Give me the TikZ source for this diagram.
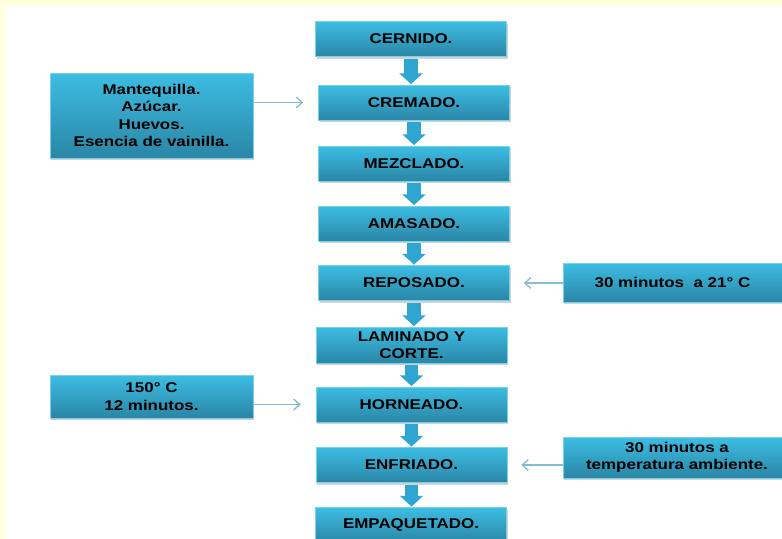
\documentclass[tikz,border=0pt]{standalone}
\usepackage{fontspec}
\setmainfont{Liberation Sans}[FakeStretch=1.2]
\usetikzlibrary{arrows.meta,shadows,calc}
\definecolor{cream}{HTML}{FFFFDC}
\definecolor{boxtop}{HTML}{3DBDE3}
\definecolor{boxbot}{HTML}{2A86A6}
\definecolor{arrowblue}{HTML}{2FA6D2}
\definecolor{thinblue}{HTML}{86BCD0}
\tikzset{
  stepbox/.style={rectangle, top color=boxtop, bottom color=boxbot, draw=boxtop!70!white, line width=0.4pt,
    drop shadow={shadow xshift=1pt, shadow yshift=-1.5pt, opacity=0.35},
    font=\fontsize{10.6}{13}\selectfont\bfseries, text=black, align=center, inner sep=1pt},
  mainbox/.style={stepbox, minimum width=143.25pt, minimum height=26.25pt},
  flowarrow/.style={draw=arrowblue, line width=10pt, -{Triangle[width=17pt,length=8pt]},
    shorten <=1.5pt, shorten >=0.5pt},
  sidearrow/.style={draw=thinblue, line width=1pt, -{Straight Barb[length=4.5pt,width=8pt]}}
}
\begin{document}
\begin{tikzpicture}[x=0.75pt,y=-0.75pt]
\useasboundingbox (0,0) rectangle (782,539);
\fill[cream] (0,0) rectangle (782,539);
\fill[white] (5,6) rectangle (782,539);

\node[mainbox] (cern) at (411,39) {CERNIDO.};
\node[mainbox] (crem) at (414,102.5) {CREMADO.};
\node[mainbox] (mezc) at (414,163.5) {MEZCLADO.};
\node[mainbox] (amas) at (414,223.5) {AMASADO.};
\node[mainbox] (repo) at (414,283) {REPOSADO.};
\node[mainbox, minimum height=27pt] (lami) at (411.5,345) {LAMINADO Y\\CORTE.};
\node[mainbox] (horn) at (411.5,404.5) {HORNEADO.};
\node[mainbox] (enfr) at (411.5,465) {ENFRIADO.};
\node[mainbox] (empa) at (411,525) {EMPAQUETADO.};

\node[stepbox, minimum width=152.25pt, minimum height=63.75pt] (ingr) at (151.5,115.5)
  {Mantequilla.\\Azúcar.\\Huevos.\\Esencia de vainilla.};
\node[stepbox, minimum width=152.25pt, minimum height=32.25pt] (temp) at (151.5,396.5)
  {150° C\\12 minutos.};
\node[stepbox, minimum width=164.25pt, minimum height=29.25pt] (rest) at (672.5,282.5)
  {30 minutos\ \ a 21° C};
\node[stepbox, minimum width=171pt, minimum height=30.75pt] (cool) at (677,457.5)
  {30 minutos a\\temperatura ambiente.};

\foreach \a/\b in {cern/crem, crem/mezc, mezc/amas, amas/repo, repo/lami, lami/horn, horn/enfr, enfr/empa}
  \draw[flowarrow] (\a.south) -- (\a.south |- \b.north);

\draw[sidearrow, shorten >=11.25pt] (ingr.east |- crem.west) -- (crem.west);
\draw[sidearrow, shorten >=11.25pt] (temp.east |- horn.west) -- (horn.west);
\draw[sidearrow, shorten >=10.5pt] (rest.west |- repo.east) -- (repo.east);
\draw[sidearrow, shorten >=10.5pt] (cool.west |- enfr.east) -- (enfr.east);
\end{tikzpicture}
\end{document}
